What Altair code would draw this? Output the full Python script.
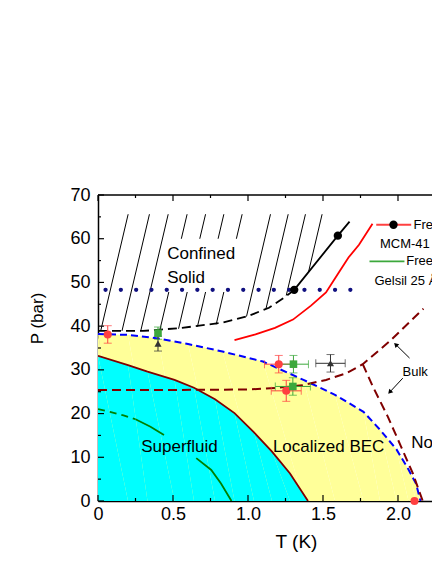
import altair as alt
import pandas as pd

# ---------------- data ----------------
# Localized BEC boundary (blue dashed), yellow region underneath
bec_T = [0, 0.2, 0.4, 0.6, 0.83, 1.1, 1.37, 1.58, 1.77, 1.88, 1.99, 2.07, 2.12, 2.15]
bec_P = [38.2, 38.0, 37.2, 35.9, 34.2, 31.9, 27.7, 24.3, 20.4, 16.3, 11.8, 7.2, 4.0, 0]
# Superfluid boundary (maroon solid), cyan region underneath
sf_T = [0, 0.2, 0.33, 0.51, 0.64, 0.78, 0.91, 1.04, 1.16, 1.28, 1.40]
sf_P = [33.2, 31.1, 29.6, 27.7, 25.9, 23.3, 20.1, 15.7, 11.3, 6.3, 0]
# green curve (dashed start, then solid in two pieces)
gd_T = [0, 0.08, 0.17, 0.25]
gd_P = [21.0, 20.4, 19.6, 18.7]
gs1_T = [0.25, 0.35, 0.44]
gs1_P = [18.7, 17.0, 15.1]
gs2_T = [0.655, 0.755, 0.82, 0.89]
gs2_P = [9.8, 7.1, 4.0, 0]
# bulk helium lines (maroon dashed)
melt_T = [0, 0.5, 1.0, 1.2, 1.365, 1.52, 1.655, 1.765, 1.943, 2.148, 2.17]
melt_P = [25.4, 25.4, 25.5, 25.9, 26.5, 27.7, 29.2, 31.3, 36.5, 43.3, 44.0]
lam_T = [1.765, 1.832, 1.932, 2.021, 2.099, 2.165]
lam_P = [31.3, 26.2, 19.3, 12.4, 6.3, 0]
# confined solid boundary (black dashed)
cs_T = [0, 0.3, 0.56, 0.83, 1.0, 1.14, 1.24, 1.31]
cs_P = [38.9, 38.9, 39.6, 40.8, 42.3, 44.2, 46.5, 48.3]
# freezing in Gelsil 25 A (red)
gel_T = [0.91, 1.05, 1.18, 1.30, 1.42, 1.52, 1.60, 1.67, 1.74, 1.83]
gel_P = [36.8, 38.1, 39.6, 41.5, 44.7, 47.7, 52.0, 55.7, 58.6, 63.4]
# freezing in MCM-41 (black with circles)
mcm_T = [1.308, 1.599, 1.677]
mcm_P = [48.3, 60.7, 63.9]
mcm_pt_T = [1.308, 1.599]
mcm_pt_P = [48.3, 60.7]
# dotted horizontal line
dot_T = [0.05, 1.715]
dot_P = [48.3, 48.3]
# hatch lines of the confined solid
hatch_T_top = [0.201, 0.343, 0.468, 0.594, 0.717, 0.839, 0.961, 1.150, 1.268, 1.383, 1.494]
hatch_P_top = [65.6] * 11
hatch_T_bot = [0.018, 0.160, 0.285, 0.413, 0.537, 0.663, 0.788, 0.990, 1.12, 1.255, 1.403]
hatch_P_bot = [38.9, 38.9, 38.9, 39.2, 39.4, 39.9, 40.4, 42.2, 44.0, 47.0, 52.3]
# blank box behind the "Confined Solid" label
box_T = [0.445]
box_T2 = [0.98]
box_P = [47.8]
box_P2 = [60.0]
# measured points with error bars
pt_series = ["red", "red", "red", "green", "green", "green", "black", "black"]
pt_T = [0.065, 1.205, 1.255, 0.40, 1.303, 1.299, 0.40, 1.55]
pt_P = [38.1, 31.3, 25.2, 38.4, 31.3, 26.2, 36.0, 31.5]
pt_dT = [0, 0.095, 0.10, 0, 0.10, 0.117, 0, 0.098]
pt_dP = [2.0, 2.0, 2.4, 1.4, 2.0, 2.0, 1.7, 2.0]
extra_series = ["red"]
extra_T = [2.11]
extra_P = [0]
# labels
big_text = ["Confined", "Solid", "Superfluid", "Localized BEC", "Normal"]
big_T = [0.461, 0.461, 0.288, 1.166, 2.088]
big_P = [56.4, 51.1, 12.4, 12.4, 13.3]
small_text = ["Freezing", "MCM-41", "Freezing", "Gelsil 25 Å", "Bulk"]
small_T = [2.103, 1.88, 2.055, 1.843, 2.03]
small_P = [63.2, 58.8, 54.8, 50.4, 29.4]
# legend samples
leg_T1 = [1.855, 1.81]
leg_T2 = [2.088, 2.043]
leg_P = [63.2, 54.8]
leg_name = ["mcm", "gel"]
leg_pt_T = [1.97]
leg_pt_P = [63.2]
# arrows pointing to the bulk lines
arr_T_tail = [2.077, 2.032]
arr_P_tail = [32.7, 28.1]
arr_T_head = [1.985, 1.945]
arr_P_head = [35.8, 24.9]
arr_angle = [315, 222]
# axis ticks
x_major = [0, 0.5, 1.0, 1.5, 2.0]
x_minor = [0.25, 0.75, 1.25, 1.75, 2.25]
y_major = [0, 10, 20, 30, 40, 50, 60, 70]
y_minor = [5, 15, 25, 35, 45, 55, 65]

# ---------------- chart ----------------
W, H = 334, 306
FONT = "Liberation Sans"

xs = alt.Scale(domain=[0, 2.2267], nice=False, zero=False)
ys = alt.Scale(domain=[0, 70], nice=False)

xaxis = alt.Axis(values=x_major, ticks=False, grid=False, domain=True, domainColor="black",
                 domainWidth=1.5, labelFlush=False, labelOverlap=False,
                 labelExpr="datum.value == 0 ? '0' : format(datum.value, '.1f')",
                 labelFont=FONT, labelFontSize=18, labelColor="black", labelPadding=4,
                 title="T (K)", titleFont=FONT, titleFontSize=19, titleFontWeight="normal",
                 titleColor="black", titleX=198, titleY=40, titleAlign="center",
                 titleBaseline="middle")
yaxis = alt.Axis(values=y_major, ticks=False, grid=False, domain=True, domainColor="black",
                 domainWidth=1.5, labelOverlap=False, labelFlush=False,
                 labelFont=FONT, labelFontSize=18, labelColor="black", labelPadding=8,
                 title="P (bar)", titleFont=FONT, titleFontSize=17, titleFontWeight="normal",
                 titleColor="black", titleX=-61, titleY=123, titleAlign="center",
                 titleBaseline="middle", titleAngle=270)

X = alt.X("T:Q", scale=xs, axis=xaxis)
Y = alt.Y("P:Q", scale=ys, axis=yaxis)


def curve(T, P):
    return pd.DataFrame({"T": T, "P": P, "i": range(len(T))})


def line(T, P, **kw):
    return alt.Chart(curve(T, P)).mark_line(clip=True, **kw).encode(x=X, y=Y, order="i:Q")


layers = []
layers.append(alt.Chart(curve(bec_T, bec_P)).mark_area(color="#FFFF99", clip=True).encode(x=X, y=Y, order="i:Q"))
layers.append(alt.Chart(curve(sf_T, sf_P)).mark_area(color="#00FFFF", clip=True).encode(x=X, y=Y, order="i:Q"))
layers.append(line(sf_T, sf_P, color="#800000", strokeWidth=1.8))
layers.append(line(gd_T, gd_P, color="#008000", strokeWidth=1.8, strokeDash=[7, 5]))
layers.append(line(gs1_T, gs1_P, color="#008000", strokeWidth=1.8))
layers.append(line(gs2_T, gs2_P, color="#008000", strokeWidth=1.8))
layers.append(line(bec_T, bec_P, color="#0000FF", strokeWidth=2, strokeDash=[7, 4]))
layers.append(line(melt_T, melt_P, color="#800000", strokeWidth=2, strokeDash=[9, 5]))
layers.append(line(lam_T, lam_P, color="#800000", strokeWidth=2, strokeDash=[9, 5]))

hatch = pd.DataFrame({"T": hatch_T_top, "P": hatch_P_top, "T2": hatch_T_bot, "P2": hatch_P_bot})
layers.append(alt.Chart(hatch).mark_rule(color="black", strokeWidth=1, clip=True).encode(
    x=X, y=Y, x2="T2:Q", y2="P2:Q"))
box = pd.DataFrame({"T": box_T, "T2": box_T2, "P": box_P, "P2": box_P2})
layers.append(alt.Chart(box).mark_rect(color="white", clip=True).encode(x=X, x2="T2:Q", y=Y, y2="P2:Q"))

layers.append(line(cs_T, cs_P, color="black", strokeWidth=1.8, strokeDash=[9, 5]))
layers.append(line(dot_T, dot_P, color="#101080", strokeWidth=4.2, strokeDash=[0.1, 15.2], strokeCap="round"))
layers.append(line(gel_T, gel_P, color="#FF0000", strokeWidth=1.8))
layers.append(line(mcm_T, mcm_P, color="black", strokeWidth=1.8))
layers.append(alt.Chart(curve(mcm_pt_T, mcm_pt_P)).mark_point(filled=True, color="black", size=70, opacity=1).encode(x=X, y=Y))

# error bars
pts = pd.DataFrame({"series": pt_series, "T": pt_T, "P": pt_P, "dT": pt_dT, "dP": pt_dP})
pts["Plo"] = pts["P"] - pts["dP"]
pts["Phi"] = pts["P"] + pts["dP"]
pts["Tlo"] = pts["T"] - pts["dT"]
pts["Thi"] = pts["T"] + pts["dT"]
hpts = pts[pts["dT"] > 0]
bar_col = alt.Color("series:N", scale=alt.Scale(domain=["red", "green", "black"],
                                                 range=["#FF4040", "#3CA83C", "#333333"]), legend=None)
layers.append(alt.Chart(pts).mark_rule(strokeWidth=1).encode(x=X, y=alt.Y("Plo:Q", scale=ys), y2="Phi:Q", color=bar_col))
layers.append(alt.Chart(pts).mark_tick(orient="horizontal", size=8, thickness=1).encode(x=X, y=alt.Y("Plo:Q", scale=ys), color=bar_col))
layers.append(alt.Chart(pts).mark_tick(orient="horizontal", size=8, thickness=1).encode(x=X, y=alt.Y("Phi:Q", scale=ys), color=bar_col))
layers.append(alt.Chart(hpts).mark_rule(strokeWidth=1).encode(x=alt.X("Tlo:Q", scale=xs), x2="Thi:Q", y=Y, color=bar_col))
layers.append(alt.Chart(hpts).mark_tick(orient="vertical", size=8, thickness=1).encode(x=alt.X("Tlo:Q", scale=xs), y=Y, color=bar_col))
layers.append(alt.Chart(hpts).mark_tick(orient="vertical", size=8, thickness=1).encode(x=alt.X("Thi:Q", scale=xs), y=Y, color=bar_col))

marks = pd.concat([pts[["series", "T", "P"]],
                   pd.DataFrame({"series": extra_series, "T": extra_T, "P": extra_P})])
layers.append(alt.Chart(marks).mark_point(filled=True, opacity=1).encode(
    x=X, y=Y,
    color=alt.Color("series:N", scale=alt.Scale(domain=["red", "green", "black"],
                                                range=["#FF0000", "#007A00", "#000000"]), legend=None),
    shape=alt.Shape("series:N", scale=alt.Scale(domain=["red", "green", "black"],
                                                range=["circle", "square", "triangle-up"]), legend=None),
    size=alt.Size("series:N", scale=alt.Scale(domain=["red", "green", "black"], range=[65, 50, 70]), legend=None)))

# labels
big = pd.DataFrame({"T": big_T, "P": big_P, "txt": big_text})
layers.append(alt.Chart(big).mark_text(align="left", baseline="middle", font=FONT, fontSize=17,
                                       color="black", clip=True).encode(x=X, y=Y, text="txt:N"))
small = pd.DataFrame({"T": small_T, "P": small_P, "txt": small_text})
layers.append(alt.Chart(small).mark_text(align="left", baseline="middle", font=FONT, fontSize=13,
                                         color="black", clip=True).encode(x=X, y=Y, text="txt:N"))
# legend samples
leg = pd.DataFrame({"T": leg_T1, "T2": leg_T2, "P": leg_P, "name": leg_name})
layers.append(alt.Chart(leg).mark_rule(strokeWidth=1.8, clip=True).encode(
    x=X, x2="T2:Q", y=Y,
    color=alt.Color("name:N", scale=alt.Scale(domain=["mcm", "gel"], range=["black", "#FF0000"]), legend=None)))
layers.append(alt.Chart(curve(leg_pt_T, leg_pt_P)).mark_point(filled=True, color="black", size=70, opacity=1).encode(x=X, y=Y))
# arrows
arr = pd.DataFrame({"T": arr_T_tail, "P": arr_P_tail, "T2": arr_T_head, "P2": arr_P_head, "ang": arr_angle})
layers.append(alt.Chart(arr).mark_rule(color="black", strokeWidth=1).encode(x=X, y=Y, x2="T2:Q", y2="P2:Q"))
layers.append(alt.Chart(arr).mark_point(shape="triangle-up", filled=True, color="black", size=28, opacity=1).encode(
    x=alt.X("T2:Q", scale=xs), y=alt.Y("P2:Q", scale=ys), angle=alt.Angle("ang:Q", scale=None)))

# inward ticks
for vals, ln in ((x_major, 6), (x_minor, 3)):
    d = pd.DataFrame({"T": vals})
    layers.append(alt.Chart(d).mark_rule(color="black", strokeWidth=1.2).encode(x=X, y=alt.value(H), y2=alt.value(H - ln)))
    layers.append(alt.Chart(d).mark_rule(color="black", strokeWidth=1.2).encode(x=X, y=alt.value(0), y2=alt.value(ln)))
for vals, ln in ((y_major, 6), (y_minor, 3)):
    d = pd.DataFrame({"P": vals})
    layers.append(alt.Chart(d).mark_rule(color="black", strokeWidth=1.2).encode(y=Y, x=alt.value(0), x2=alt.value(ln)))
# top frame line
layers.append(alt.Chart(pd.DataFrame({"k": [0]})).mark_rule(color="black", strokeWidth=1.5).encode(
    x=alt.value(0), x2=alt.value(W), y=alt.value(0)))

chart = alt.layer(*layers).properties(
    width=W, height=H,
    padding={"left": 90, "top": 187, "right": 0, "bottom": 60},
    autosize=alt.AutoSizeParams(type="none"),
).configure_view(stroke=None)

chart.save("out.html", embed_options={"renderer": "svg", "actions": False})
